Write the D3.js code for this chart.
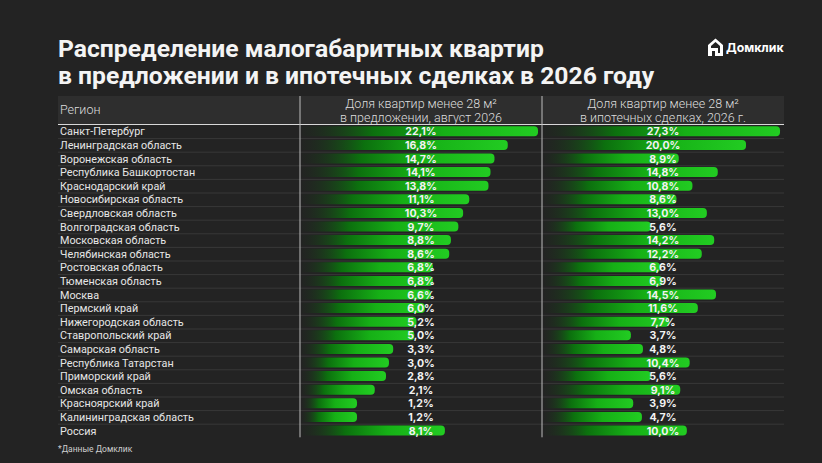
<!DOCTYPE html>
<html><head><meta charset="utf-8">
<script src="https://cdn.jsdelivr.net/npm/d3@7"></script>
<style>
html,body{margin:0;padding:0;background:#232323;}
svg{display:block;}
</style></head>
<body>
<svg id="c" width="822" height="463"></svg>
<script>
const titleLines = ["Распределение малогабаритных квартир", "в предложении и в ипотечных сделках в 2026 году"];
const regions = ["Санкт-Петербург","Ленинградская область","Воронежская область","Республика Башкортостан","Краснодарский край","Новосибирская область","Свердловская область","Волгоградская область","Московская область","Челябинская область","Ростовская область","Тюменская область","Москва","Пермский край","Нижегородская область","Ставропольский край","Самарская область","Республика Татарстан","Приморский край","Омская область","Красноярский край","Калининградская область","Россия"];
const offerShare = [22.1,16.8,14.7,14.1,13.8,11.1,10.3,9.7,8.8,8.6,6.8,6.8,6.6,6.0,5.2,5.0,3.3,3.0,2.8,2.1,1.2,1.2,8.1];
const mortgageShare = [27.3,20.0,8.9,14.8,10.8,8.6,13.0,5.6,14.2,12.2,6.6,6.9,14.5,11.6,7.7,3.7,4.8,10.4,5.6,9.1,3.9,4.7,10.0];
const headerRegion = "Регион";
const headerCol1 = ["Доля квартир менее 28 м²", "в предложении, август 2026"];
const headerCol2 = ["Доля квартир менее 28 м²", "в ипотечных сделках, 2026 г."];
const footnote = "*Данные Домклик";
const brand = "Домклик";

const svg = d3.select("#c");
const F = "Roboto, 'Open Sans', sans-serif";
const FI = "Inter, 'Open Sans', sans-serif";
const tableL = 58, tableR = 784, div1 = 300, div2 = 542;
const headTop = 96, headBot = 124.5, tableBot = 437.3;

const defs = svg.append("defs");
const g = defs.append("linearGradient").attr("id","grn").attr("x1","0").attr("x2","1").attr("y1","0").attr("y2","0");
g.append("stop").attr("offset","0").attr("stop-color","#1c2a1c").attr("stop-opacity",0.15);
g.append("stop").attr("offset","0.3").attr("stop-color","#0c700e");
g.append("stop").attr("offset","0.6").attr("stop-color","#16b016");
g.append("stop").attr("offset","1").attr("stop-color","#22cc22");

// title
svg.append("g").selectAll("text").data(titleLines).join("text")
  .attr("x", tableL).attr("y",(d,i)=>57+i*27)
  .attr("font-family",F).attr("font-weight",700).attr("font-size",24.7)
  .attr("fill","#f4f4f4").text(d=>d);

// logo
const logo = svg.append("g");
logo.append("path").attr("d","M708,45 L715.5,38.5 L723,45 L723,56 L715,56 L715,51 L712,51 L712,56 L708,56 Z")
  .attr("fill","#fff");
logo.append("path").attr("d","M711,46 L715.5,42 L720,46 L720,53 L718,53 L718,48 L711,48 Z").attr("fill","#232323");
logo.append("text").attr("x",726).attr("y",52).attr("font-family",FI).attr("font-weight",700)
  .attr("font-size",12.3).attr("fill","#fff").text(brand);

// header
svg.append("rect").attr("x",tableL).attr("y",headTop).attr("width",tableR-tableL).attr("height",headBot-headTop).attr("fill","#2e2e2e");
svg.append("text").attr("x",tableL+2).attr("y",114).attr("font-family",F).attr("font-weight",300)
  .attr("font-size",12.5).attr("fill","#dddddd").text(headerRegion);
[[headerCol1,(div1+div2)/2],[headerCol2,(div2+tableR)/2]].forEach(([lines,cx])=>{
  svg.append("g").selectAll("text").data(lines).join("text")
    .attr("x",cx).attr("y",(d,i)=>107.5+i*14.5).attr("text-anchor","middle")
    .attr("font-family",F).attr("font-weight",300).attr("font-size",12.5).attr("fill","#dddddd").text(d=>d);
});

const y = d3.scaleBand().domain(regions).range([headBot, tableBot]).padding(0);
const x1 = d3.scaleSqrt().domain([0, d3.max(offerShare)]).range([0, 236]);
const x2 = d3.scaleSqrt().domain([0, d3.max(mortgageShare)]).range([0, 236]);

// row separators
svg.append("g").selectAll("line").data(regions.slice(1)).join("line")
  .attr("x1",tableL).attr("x2",tableR).attr("y1",d=>y(d)+0.5).attr("y2",d=>y(d)+0.5)
  .attr("stroke","#383838").attr("stroke-width",1);

// labels
svg.append("g").selectAll("text").data(regions).join("text")
  .attr("x",tableL+2).attr("y",d=>y(d)+y.bandwidth()/2+4)
  .attr("font-family",F).attr("font-weight",400).attr("font-size",10.8).attr("fill","#e6e6e6").text(d=>d);

function barPath(x0,w,yy,h){
  const r = Math.min(4, w/2);
  return `M${x0},${yy} H${x0+w-r} A${r},${r} 0 0 1 ${x0+w},${yy+r} V${yy+h-r} A${r},${r} 0 0 1 ${x0+w-r},${yy+h} H${x0} Z`;
}
const bh = 10;
[[offerShare,x1,div1+2,(div1+div2)/2],[mortgageShare,x2,div2+2,(div2+tableR)/2]].forEach(([vals,sc,x0,cx])=>{
  const gg = svg.append("g");
  gg.selectAll("path").data(regions).join("path")
    .attr("d",(d,i)=>barPath(x0, sc(vals[i]), y(d)+(y.bandwidth()-bh)/2, bh))
    .attr("fill","url(#grn)");
  gg.selectAll("text").data(regions).join("text")
    .attr("x",cx).attr("y",d=>y(d)+y.bandwidth()/2+4).attr("text-anchor","middle")
    .attr("font-family",FI).attr("font-weight",700).attr("font-size",10.6).attr("fill","#f2f2f2")
    .text((d,i)=>d3.format(".1f")(vals[i]).replace(".",",")+"%");
});

// header bottom line and dividers
svg.append("line").attr("x1",tableL).attr("x2",tableR).attr("y1",headBot).attr("y2",headBot).attr("stroke","#d8d8d8").attr("stroke-width",1.2);
[div1,div2].forEach(xx=>{
  svg.append("line").attr("x1",xx).attr("x2",xx).attr("y1",headTop).attr("y2",tableBot).attr("stroke","#bdbdbd").attr("stroke-width",1);
});

svg.append("text").attr("x",tableL).attr("y",452).attr("font-family",F).attr("font-size",8.5).attr("fill","#cfcfcf").text(footnote);
</script>
</body></html>
